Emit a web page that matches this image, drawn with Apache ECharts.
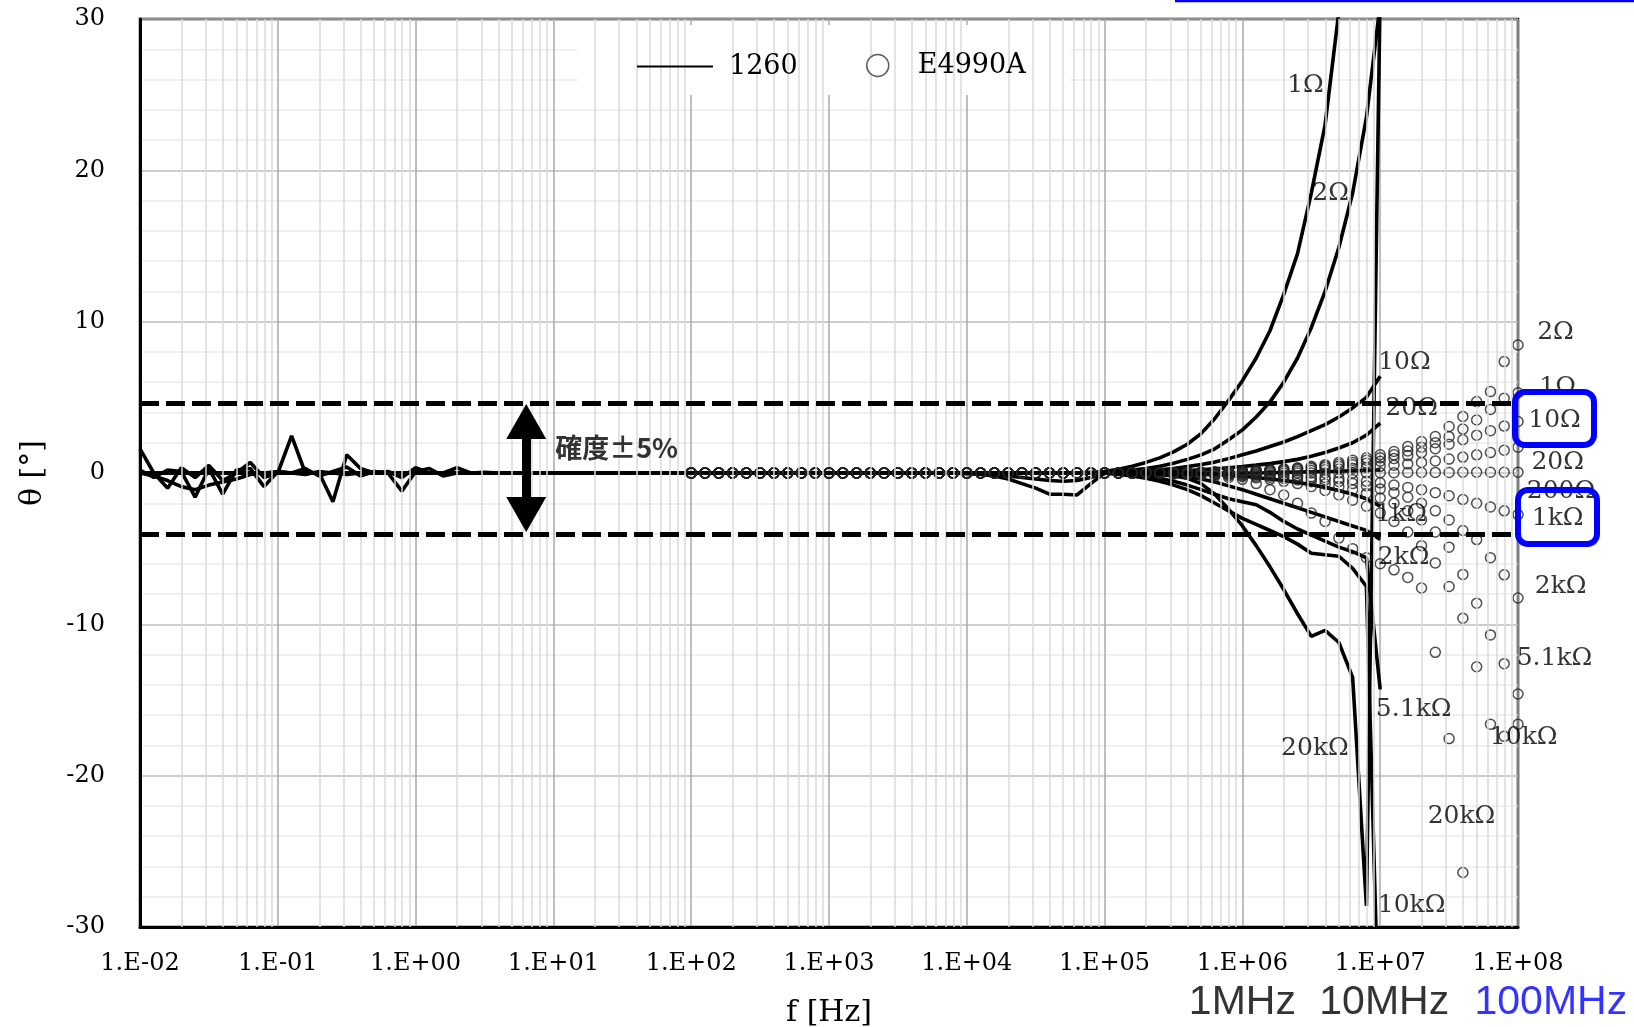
<!DOCTYPE html>
<html><head><meta charset="utf-8">
<script src="https://cdn.jsdelivr.net/npm/echarts/dist/echarts.min.js"></script>
<style>html,body{margin:0;padding:0;background:#fff}#c{width:1634px;height:1027px}</style>
</head><body><div id="c"></div>
<script>
// ---------- frequency sweeps (10 points / decade) ----------
const F1260 = []; for (let i = 0; i <= 90; i++) F1260.push(+(Math.pow(10, -2 + i / 10)).toPrecision(4));   // 0.01 Hz .. 10 MHz
const FE4990 = []; for (let i = 0; i <= 60; i++) FE4990.push(+(Math.pow(10, 2 + i / 10)).toPrecision(4)); // 100 Hz .. 100 MHz

// ---------- 1260 phase [deg], one value per F1260 point ----------
const R1260_1 = [
 0,0,0,0,0,0,0,0,0,0,
 0,0,0,0,0,0,0,0,0,0,
 0,0,0,0,0,0,0,0,0,0,
 0,0,0,0,0,0,0,0,0,0,
 0,0,0,0,0,0,0,0,0,0,
 0,0,0,0,0,0,0,0,0,0,
 0,0,0,0,0,0,0,0,0,0.05,
 0.1,0.25,0.45,0.7,1.0,1.4,1.9,2.6,3.6,4.8,
 6.1,7.6,9.4,11.8,14.5,18.5,23,30.5,40,50,
 60];
const R1260_2 = [
 0,0,0,0,0,0,0,0,0,0,
 0,0,0,0,0,0,0,0,0,0,
 0,0,0,0,0,0,0,0,0,0,
 0,0,0,0,0,0,0,0,0,0,
 0,0,0,0,0,0,0,0,0,0,
 0,0,0,0,0,0,0,0,0,0,
 0,0,0,0,0,0,0,0,0,0,
 0.05,0.12,0.2,0.3,0.45,0.65,0.9,1.2,1.6,2.2,
 2.85,3.7,4.7,6.0,7.6,9.6,12.0,14.9,18.5,23.5,
 31];
const R1260_10 = [
 0,0,0,0,0,0,0,0,0,0,
 0,0,0,0,0,0,0,0,0,0,
 0,0,0,0,0,0,0,0,0,0,
 0,0,0,0,0,0,0,0,0,0,
 0,0,0,0,0,0,0,0,0,0,
 0,0,0,0,0,0,0,0,0,0,
 0,0,0,0,0,0,0,0,0,0,
 0.03,0.06,0.1,0.15,0.22,0.3,0.42,0.56,0.72,0.95,
 1.2,1.45,1.75,2.05,2.4,2.8,3.2,3.7,4.3,5.0,
 6.4];
const R1260_20 = [
 0,0,0,0,0,0,0,0,0,0,
 0,0,0,0,0,0,0,0,0,0,
 0,0,0,0,0,0,0,0,0,0,
 0,0,0,0,0,0,0,0,0,0,
 0,0,0,0,0,0,0,0,0,0,
 0,0,0,0,0,0,0,0,0,0,
 0,0,0,0,0,0,0,0,0,0,
 0.01,0.02,0.04,0.06,0.09,0.12,0.16,0.21,0.27,0.35,
 0.43,0.52,0.62,0.75,0.9,1.1,1.35,1.65,2.0,2.5,
 3.3];
const R1260_200 = [
 0,0,0,0,0,0,0,0,0,0,
 0,0,0,0,0,0,0,0,0,0,
 0,0,0,0,0,0,0,0,0,0,
 0,0,0,0,0,0,0,0,0,0,
 0,0,0,0,0,0,0,0,0,0,
 0,0,0,0,0,0,0,0,0,0,
 0,0,0,0,0,0,0,0,0,0,
 0,0,0,0,0,0,0,0,0,0,
 0,0,0.02,0.04,0.06,0.08,0.1,0.12,0.15,0.18,
 0.2];
const R1260_1k = [
 0,0,0,0,0,0,0,0,0,0,
 0,0,0,0,0,0,0,0,0,0,
 0,0,0,0,0,0,0,0,0,0,
 0,0,0,0,0,0,0,0,0,0,
 0,0,0,0,0,0,0,0,0,0,
 0,0,0,0,0,0,0,0,0,0,
 0,0,0,0,0,0,0,0,0,0,
 0,0,0,0,-0.02,-0.04,-0.06,-0.09,-0.12,-0.16,
 -0.22,-0.3,-0.4,-0.5,-0.62,-0.78,-0.95,-1.15,-1.4,-1.7,
 -2.2];
const R1260_2k = [
 0,0,0,0,0,0,0,0,0,0,
 0,0,0,0,0,0,0,0,0,0,
 0,0,0,0,0,0,0,0,0,0,
 0,0,0,0,0,0,0,0,0,0,
 0,0,0,0,0,0,0,0,0,0,
 0,0,0,0,0,0,0,0,0,0,
 0,0,0,0,0,0,0,0,0,0,
 0,0,-0.02,-0.05,-0.1,-0.15,-0.25,-0.4,-0.6,-0.85,
 -1.1,-1.4,-1.7,-2.0,-2.3,-2.6,-2.9,-3.2,-3.5,-3.8,
 -4.4];
const R1260_5k1 = [
 0,-0.2,-0.5,-0.9,-1.1,-0.8,-0.6,-0.4,-0.1,0,
 0.1,0,-0.1,0.1,0,-0.1,0,0.1,0,0,
 0,0,0,0,0,0,0,0,0,0,
 0,0,0,0,0,0,0,0,0,0,
 0,0,0,0,0,0,0,0,0,0,
 0,0,0,0,0,0,0,0,0,0,
 0,0,0,0,0,0,0,0,0,0,
 0,-0.05,-0.1,-0.2,-0.35,-0.55,-0.8,-1.1,-1.4,-1.7,
 -1.9,-2.1,-2.6,-3.2,-3.7,-4.1,-4.5,-4.9,-5.2,-5.6,
 -14.3];
const R1260_10k = [
 0.2,-0.3,0.2,0.1,-1.6,0.3,-1.4,0.2,0.3,-0.9,
 0.1,0,0.3,-0.2,0.1,0.4,-0.2,0.1,0,-1.2,
 0.1,0.3,-0.2,0,0,0,0,0,0,0,
 0,0,0,0,0,0,0,0,0,0,
 0,0,0,0,0,0,0,0,0,0,
 0,0,0,0,0,0,0,0,0,0,
 0,-0.05,-0.1,-0.2,-0.3,-0.4,-0.5,-0.55,-0.5,-0.3,
 0,-0.1,-0.2,-0.35,-0.55,-0.8,-1.1,-1.5,-2.0,-2.5,
 -3.0,-3.4,-3.8,-4.2,-4.7,-5.3,-5.4,-5.5,-6.3,-7.5,
 -40];
const R1260_20k = [
 1.6,0,-1.0,0.35,-0.3,0.5,-0.5,0,0.7,-0.3,
 0,2.45,0,0,-1.9,1.2,0.3,0,0.1,-0.3,
 0.35,0,0,0.35,0,0.05,0,0,0,0,
 0,0,0,0,0,0,0,0,0,0,
 0,0,0,0,0,0,0,0,0,0,
 0,0,0,0,0,0,0,0,0,0,
 -0.05,-0.1,-0.2,-0.4,-0.7,-1.0,-1.4,-1.4,-1.45,-0.7,
 0,0,0,-0.05,-0.1,-0.2,-0.35,-0.7,-1.4,-2.4,
 -3.5,-4.8,-6.2,-7.7,-9.3,-10.8,-10.4,-11.2,-13.5,-28.6,
 32];

// ---------- E4990A phase [deg], one value per FE4990 point (null = off scale) ----------
const E4990_1 = [
 0,0,0,0,0,0,0,0,0,0, 0,0,0,0,0,0,0,0,0,0, 0,0,0,0,0,0,0,0,0,0,
 0,0,0,0.01,0.02,0.03,0.04,0.05,0.07,0.09,
 0.12,0.15,0.19,0.24,0.3,0.38,0.47,0.58,0.7,0.85,
 1.0,1.2,1.45,1.7,2.0,2.4,2.9,3.5,4.2,4.94,5.3];
const E4990_2 = [
 0,0,0,0,0,0,0,0,0,0, 0,0,0,0,0,0,0,0,0,0, 0,0,0,0,0,0,0,0,0,0,
 0,0,0,0.02,0.03,0.04,0.05,0.07,0.09,0.11,
 0.14,0.18,0.22,0.28,0.35,0.44,0.55,0.7,0.85,1.0,
 1.2,1.42,1.75,2.08,2.41,3.07,3.73,4.72,5.38,7.36,8.46];
const E4990_10 = [
 0,0,0,0,0,0,0,0,0,0, 0,0,0,0,0,0,0,0,0,0, 0,0,0,0,0,0,0,0,0,0,
 0,0,0,0.01,0.01,0.02,0.03,0.04,0.05,0.07,
 0.09,0.12,0.15,0.19,0.24,0.3,0.37,0.45,0.55,0.65,
 0.78,0.95,1.15,1.35,1.6,1.9,2.2,2.5,2.8,3.1,3.4];
const E4990_20 = [
 0,0,0,0,0,0,0,0,0,0, 0,0,0,0,0,0,0,0,0,0, 0,0,0,0,0,0,0,0,0,0,
 0,0,0,0,0.01,0.01,0.02,0.02,0.03,0.04,
 0.05,0.07,0.09,0.11,0.14,0.17,0.21,0.26,0.31,0.37,
 0.44,0.52,0.6,0.7,0.8,0.92,1.05,1.2,1.35,1.5,1.7];
const E4990_200 = [
 0,0,0,0,0,0,0,0,0,0, 0,0,0,0,0,0,0,0,0,0, 0,0,0,0,0,0,0,0,0,0,
 0,0,0,0,0,0,0,0,0,0,
 0,0,0,0,0,0,0,0,0,0.01,
 0.02,0.02,0.03,0.03,0.04,0.04,0.05,0.05,0.05,0.05,0.05];
const E4990_1k = [
 0,0,0,0,0,0,0,0,0,0, 0,0,0,0,0,0,0,0,0,0, 0,0,0,0,0,0,0,0,0,0,
 0,0,0,0,0,-0.01,-0.02,-0.03,-0.04,-0.05,
 -0.07,-0.09,-0.12,-0.15,-0.19,-0.24,-0.3,-0.37,-0.45,-0.55,
 -0.65,-0.8,-0.95,-1.1,-1.3,-1.5,-1.75,-2.0,-2.25,-2.5,-2.75];
const E4990_2k = [
 0,0,0,0,0,0,0,0,0,0, 0,0,0,0,0,0,0,0,0,0, 0,0,0,0,0,0,0,0,0,0,
 0,0,0,0,-0.01,-0.02,-0.03,-0.04,-0.06,-0.08,
 -0.1,-0.13,-0.17,-0.22,-0.28,-0.36,-0.45,-0.56,-0.7,-0.85,
 -1.05,-1.3,-1.6,-2.0,-2.5,-3.1,-3.8,-4.4,-5.6,-6.73,-8.26];
const E4990_5k1 = [
 0,0,0,0,0,0,0,0,0,0, 0,0,0,0,0,0,0,0,0,0, 0,0,0,0,0,0,0,0,0,0,
 0,0,0,0,-0.02,-0.03,-0.05,-0.07,-0.1,-0.13,
 -0.17,-0.22,-0.28,-0.36,-0.46,-0.58,-0.72,-0.9,-1.1,-1.35,
 -1.65,-2.0,-2.5,-3.1,-3.9,-4.9,-6.7,-8.6,-10.7,-12.6,-14.6];
const E4990_10k = [
 0,0,0,0,0,0,0,0,0,0, 0,0,0,0,0,0,0,0,0,0, 0,0,0,0,0,0,0,0,0,0,
 0,0,0,0,-0.02,-0.04,-0.06,-0.09,-0.13,-0.18,
 -0.24,-0.32,-0.42,-0.55,-0.7,-0.9,-1.15,-1.45,-1.8,-2.2,
 -2.65,-3.2,-3.9,-4.8,-5.95,-7.5,-9.6,-12.8,-16.6,-17.4,-16.6];
const E4990_20k = [
 0,0,0,0,0,0,0,0,0,0, 0,0,0,0,0,0,0,0,0,0, 0,0,0,0,0,0,0,0,0,0,
 0,0,-0.01,-0.02,-0.04,-0.07,-0.1,-0.15,-0.22,-0.3,
 -0.42,-0.7,-1.1,-1.45,-2.0,-2.65,-3.2,-4.3,-5.0,-5.6,
 -6.0,-6.4,-6.9,-7.6,-11.85,-17.55,-26.4,null,null,null,null];

const SERIES_1260 = [R1260_1, R1260_2, R1260_10, R1260_20, R1260_200, R1260_1k, R1260_2k, R1260_5k1, R1260_10k, R1260_20k];
const SERIES_E4990 = [E4990_1, E4990_2, E4990_10, E4990_20, E4990_200, E4990_1k, E4990_2k, E4990_5k1, E4990_10k, E4990_20k];

// ---------- annotations: [text, f, theta] ----------
const LABELS_1260 = [
 ['1Ω', 2.87e6, 25.6], ['2Ω', 4.37e6, 18.5], ['10Ω', 1.5e7, 7.3], ['20Ω', 1.69e7, 4.27],
 ['1kΩ', 1.42e7, -2.75], ['2kΩ', 1.48e7, -5.57], ['5.1kΩ', 1.75e7, -15.6],
 ['20kΩ', 3.36e6, -18.2], ['10kΩ', 1.69e7, -28.6]
];
const LABELS_E4990 = [
 ['2Ω', 1.87e8, 9.3], ['1Ω', 1.94e8, 5.62], ['10Ω', 1.84e8, 3.47], ['20Ω', 1.94e8, 0.7],
 ['200Ω', 2.05e8, -1.23], ['1kΩ', 1.94e8, -3.0], ['2kΩ', 2.04e8, -7.5],
 ['5.1kΩ', 1.84e8, -12.28], ['10kΩ', 1.1e8, -17.47], ['20kΩ', 3.89e7, -22.7]
];
const FREQ_MARKS = [['1MHz', 1.0e6, -35.0, '#000'], ['10MHz', 1.07e7, -35.0, '#000'], ['100MHz', 1.73e8, -35.0, '#0000ff']];
const ACC_TEXT = ['確度±5%', 10.3, 1.66];
const BAND = [4.6, -4.05];          // accuracy band (dashed lines)
const ARROW = [6.35, 3.4, -2.75];   // f, theta top, theta bottom of the double arrow

const X_MIN = 0.01, X_MAX = 1e8;
const MINOR_X = [];
for (let d = -2; d <= 7; d++) for (let k = 2; k <= 9; k++) MINOR_X.push(+(k * Math.pow(10, d)).toPrecision(3));

const SERIF = 'DejaVu Serif';
const chart = echarts.init(document.getElementById('c'), null, {renderer: 'canvas'});

const series = [];
series.push({type: 'line', name: 'grid', data: [], silent: true, z: 1,
  markLine: {silent: true, symbol: ['none', 'none'], label: {show: false}, animation: false,
    lineStyle: {color: '#dadada', width: 1.5, type: 'solid'}, data: MINOR_X.map(v => ({xAxis: v}))}});

SERIES_1260.forEach(arr => series.push({
  type: 'line', name: '1260', symbol: 'none', z: 3, clip: true,
  lineStyle: {color: '#000', width: 3.6}, itemStyle: {color: '#000'},
  data: F1260.map((f, i) => [f, arr[i]])
}));
SERIES_E4990.forEach(arr => series.push({
  type: 'scatter', name: 'E4990A', symbol: 'circle', symbolSize: 10, z: 4,
  itemStyle: {color: 'rgba(255,255,255,0)', borderColor: '#222', borderWidth: 1.5},
  data: FE4990.map((f, i) => [f, arr[i]]).filter(p => p[1] !== null)
}));
series.push({type: 'line', name: 'band', data: [], silent: true, z: 5,
  markLine: {silent: true, symbol: ['none', 'none'], label: {show: false}, animation: false,
    lineStyle: {color: '#000', width: 5, type: [19, 7]}, data: BAND.map(v => ({yAxis: v}))}});
series.push({type: 'line', name: 'arrow', data: [], silent: true, z: 5,
  markLine: {silent: true, symbol: ['triangle', 'triangle'], symbolSize: [40, 35], label: {show: false}, animation: false,
    itemStyle: {color: '#000'}, lineStyle: {color: '#000', width: 9, type: 'solid'},
    data: [[{coord: [ARROW[0], ARROW[1]]}, {coord: [ARROW[0], ARROW[2]]}]]}});

const annot = [];
LABELS_1260.concat(LABELS_E4990).forEach(([t, f, v]) => annot.push({value: [f, v], label: {formatter: t}}));
FREQ_MARKS.forEach(([t, f, v, c]) => annot.push({value: [f, v], label: {formatter: t, fontFamily: 'Liberation Sans', fontSize: 41, color: c}}));
annot.push({value: [ACC_TEXT[1], ACC_TEXT[2]], label: {formatter: ACC_TEXT[0], fontFamily: 'Noto Sans CJK JP', fontSize: 27, fontWeight: 'bold', align: 'left', color: '#000'}});
series.push({type: 'scatter', name: 'annot', silent: true, clip: false, z: 6, symbolSize: 1,
  itemStyle: {color: 'rgba(0,0,0,0)'},
  label: {show: true, position: 'inside', fontFamily: SERIF, fontSize: 25, color: '#000'},
  data: annot});

const fmtX = v => { const e = Math.round(Math.log10(v)); return '1.E' + (e < 0 ? '-' : '+') + String(Math.abs(e)).padStart(2, '0'); };

chart.setOption({
  animation: false,
  backgroundColor: '#fff',
  grid: {left: 140, right: 116, top: 19, bottom: 100, show: true, borderColor: '#000', borderWidth: 2.5,
         containLabel: false, outerBoundsMode: 'none'},
  xAxis: {
    type: 'log', logBase: 10, min: X_MIN, max: X_MAX, interval: 1,
    axisLine: {onZero: false, lineStyle: {color: '#000', width: 3}},
    axisTick: {show: false},
    axisLabel: {formatter: fmtX, fontFamily: SERIF, fontSize: 24, color: '#000', margin: 25, hideOverlap: false, interval: 0},
    splitLine: {show: true, lineStyle: {color: '#a8a8a8', width: 1.5}},
    name: 'f [Hz]', nameLocation: 'middle', nameGap: 71,
    nameTextStyle: {fontFamily: SERIF, fontSize: 30, color: '#000'}
  },
  yAxis: {
    type: 'value', min: -30, max: 30, interval: 10,
    axisLine: {show: true, lineStyle: {color: '#000', width: 3}},
    axisTick: {show: false},
    axisLabel: {fontFamily: SERIF, fontSize: 24, color: '#000', margin: 35},
    splitLine: {show: true, lineStyle: {color: '#bdbdbd', width: 1.5}},
    minorTick: {show: false, splitNumber: 5},
    minorSplitLine: {show: true, lineStyle: {color: '#ebebeb', width: 1.5}},
    name: 'θ [°]', nameLocation: 'middle', nameGap: 92,
    nameTextStyle: {fontFamily: SERIF, fontSize: 30, color: '#000'}
  },
  legend: [
    {data: ['1260'], left: 637, top: 53, padding: 0, z: 10, icon: 'rect', itemWidth: 76, itemHeight: 2,
     itemStyle: {color: '#000'}, textStyle: {fontFamily: SERIF, fontSize: 27, color: '#000', padding: [0, 0, 0, 11]}, selectedMode: false},
    {data: ['E4990A'], left: 866, top: 52, padding: 0, z: 10, icon: 'circle', itemWidth: 22, itemHeight: 22,
     itemStyle: {color: '#fff', borderColor: '#333', borderWidth: 1.5}, textStyle: {fontFamily: SERIF, fontSize: 27, color: '#000', padding: [0, 0, 0, 24]}, selectedMode: false}
  ],
  graphic: [
    {type: 'rect', z: 3, shape: {x: 577, y: 25, width: 494, height: 70}, style: {fill: '#fff'}},
    {type: 'rect', z: 20, shape: {x: 1515, y: 392, width: 79, height: 53, r: 10}, style: {fill: 'none', stroke: '#0000ff', lineWidth: 6}},
    {type: 'rect', z: 20, shape: {x: 1518, y: 490, width: 79, height: 54, r: 10}, style: {fill: 'none', stroke: '#0000ff', lineWidth: 6}},
    {type: 'line', z: 20, shape: {x1: 1175, y1: 1, x2: 1634, y2: 1}, style: {stroke: '#0000ff', lineWidth: 2.5}}
  ],
  series: series
});
</script></body></html>
